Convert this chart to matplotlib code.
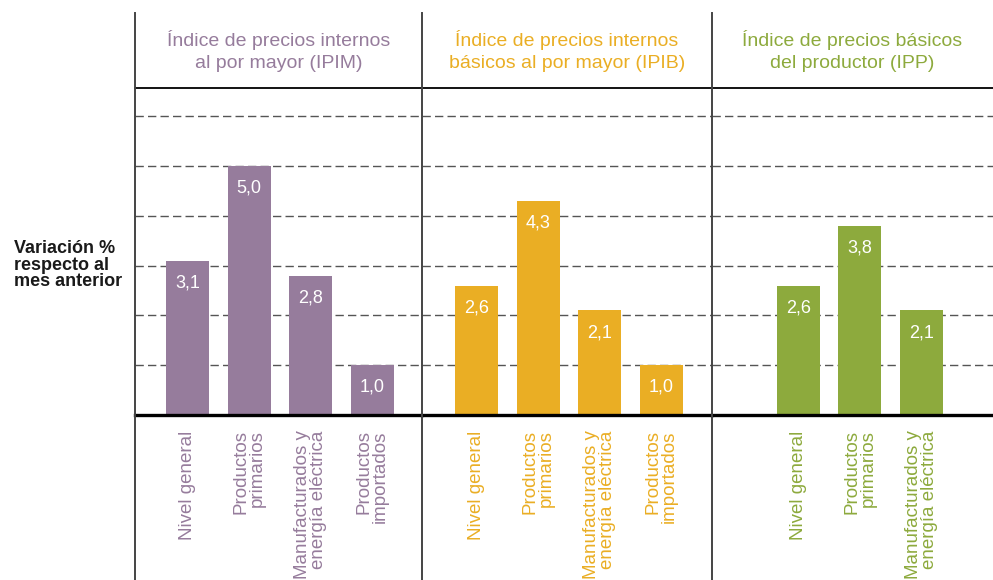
import matplotlib
matplotlib.use("Agg")
import matplotlib.pyplot as plt
from matplotlib.lines import Line2D

plt.rcParams['font.family'] = ['Liberation Sans', 'DejaVu Sans']

# datos
titles = ["Índice de precios internos\nal por mayor (IPIM)",
          "Índice de precios internos\nbásicos al por mayor (IPIB)",
          "Índice de precios básicos\ndel productor (IPP)"]
cats_4 = ["Nivel general", "Productos\nprimarios",
          "Manufacturados y\nenergía eléctrica", "Productos\nimportados"]
cats_3 = cats_4[:3]
ipim = [3.1, 5.0, 2.8, 1.0]
ipib = [2.6, 4.3, 2.1, 1.0]
ipp = [2.6, 3.8, 2.1]
colors = ["#967c9c", "#eaae24", "#8daa3d"]

W, H = 993, 580
fig = plt.figure(figsize=(W / 100, H / 100), dpi=100)

# panel edges (px) and x-limits in bar units
panels = [(135, 422, (-0.86, 3.81)),
          (422, 712, (-0.89, 3.83)),
          (712, 993, (-1.41, 3.17))]
series = [(cats_4, ipim), (cats_4, ipib), (cats_3, ipp)]
top_px, base_px = 88, 415

for (x0, x1, xl), (cats, vals), title, col in zip(panels, series, titles, colors):
    ax = fig.add_axes([x0 / W, 1 - base_px / H, (x1 - x0) / W, (base_px - top_px) / H])
    ax.set_xlim(*xl)
    ax.set_ylim(0, 6.57)
    ax.set_yticks(range(1, 7))
    ax.yaxis.grid(True, color="#555555", lw=1.0, ls=(0, (6, 3)))
    ax.set_axisbelow(True)
    ax.tick_params(left=False, bottom=False, labelleft=False, labelbottom=False)
    for s in ["left", "right"]:
        ax.spines[s].set_visible(False)
    ax.spines["top"].set_linewidth(1.3)
    ax.spines["bottom"].set_linewidth(2.4)
    ax.spines["bottom"].set_color("black")

    xs = range(len(vals))
    ax.bar(xs, vals, width=0.7, color=col, zorder=2)
    for i, v in zip(xs, vals):
        ax.annotate(f"{v:.1f}".replace(".", ","), (i, v), xytext=(0, -16),
                    textcoords="offset points", ha="center", va="center",
                    color="white", fontsize=13, zorder=3)
    for i, c in zip(xs, cats):
        ax.annotate(c, (i, 0), xytext=(0, -11), textcoords="offset points",
                    ha="center", va="top", rotation=90, multialignment="right",
                    color=col, fontsize=13.5, linespacing=0.92,
                    annotation_clip=False)
    ax.text(0.5, 1.113, title, transform=ax.transAxes, ha="center", va="center",
            color=col, fontsize=14, linespacing=1.45)

# separadores verticales
for xp in [135, 422, 712]:
    fig.add_artist(Line2D([xp / W, xp / W], [0, 1 - 13 / H], color="#444444", lw=1.4))

fig.text(14 / W, 1 - 265 / H, "Variación %\nrespecto al\nmes anterior",
         ha="left", va="center", fontsize=13, fontweight="bold",
         color="#1a1a1a", linespacing=0.95)

fig.savefig("out.png", dpi=100)
